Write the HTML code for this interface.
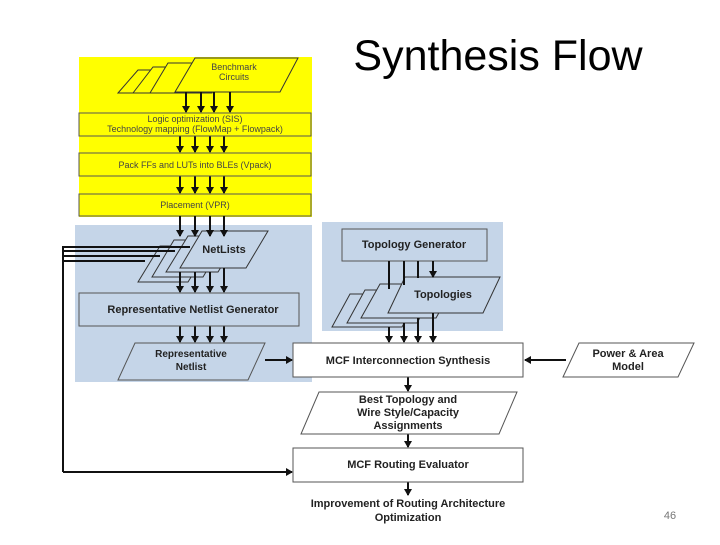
<!DOCTYPE html>
<html><head><style>
body{margin:0;background:#fff;width:720px;height:540px;overflow:hidden;font-family:"Liberation Sans",sans-serif}
</style></head><body>
<svg width="720" height="540" xmlns="http://www.w3.org/2000/svg" font-family="Liberation Sans, sans-serif">
<defs><marker id="a" markerWidth="8" markerHeight="8" refX="6" refY="4" orient="auto" markerUnits="userSpaceOnUse"><path d="M0,0 L7,4 L0,8z" fill="#111"/></marker></defs>
<text x="498" y="70" font-size="43" text-anchor="middle" fill="#000">Synthesis Flow</text>
<rect x="79" y="57" width="233" height="160" fill="#ffff00"/>
<g fill="#ffff00" stroke="#333" stroke-width="1">
<polygon points="118,93 138,70 200,70 180,93"/>
<polygon points="133,93 153,67 215,67 195,93"/>
<polygon points="150,93 168,63 230,63 212,93"/>
<polygon points="175,92 195,58 298,58 280,92"/>
</g>
<text x="234" y="70" font-size="9" text-anchor="middle" fill="#444">Benchmark</text>
<text x="234" y="80" font-size="9" text-anchor="middle" fill="#444">Circuits</text>
<g stroke="#111" stroke-width="2" marker-end="url(#a)">
<line x1="186" y1="92" x2="186" y2="112"/><line x1="201" y1="92" x2="201" y2="112"/><line x1="214" y1="92" x2="214" y2="112"/><line x1="230" y1="92" x2="230" y2="112"/>
<line x1="180" y1="136" x2="180" y2="152"/><line x1="195" y1="136" x2="195" y2="152"/><line x1="210" y1="136" x2="210" y2="152"/><line x1="224" y1="136" x2="224" y2="152"/>
<line x1="180" y1="176" x2="180" y2="193"/><line x1="195" y1="176" x2="195" y2="193"/><line x1="210" y1="176" x2="210" y2="193"/><line x1="224" y1="176" x2="224" y2="193"/>
</g>
<g fill="#ffff00" stroke="#555" stroke-width="1">
<rect x="79" y="113" width="232" height="23"/>
<rect x="79" y="153" width="232" height="23"/>
<rect x="79" y="194" width="232" height="22"/>
</g>
<g font-size="9" fill="#444" text-anchor="middle">
<text x="195" y="122">Logic optimization (SIS)</text>
<text x="195" y="132">Technology mapping (FlowMap + Flowpack)</text>
<text x="195" y="168">Pack FFs and LUTs into BLEs (Vpack)</text>
<text x="195" y="208">Placement (VPR)</text>
</g>
<rect x="75" y="225" width="237" height="157" fill="#c5d5e8"/>
<g fill="#c5d5e8" stroke="#333" stroke-width="1">
<polygon points="138,282 160,246 210,246 188,282"/>
<polygon points="152,277 174,240 225,240 203,277"/>
<polygon points="166,272 188,236 240,236 218,272"/>
<polygon points="180,268 202,231 268,231 246,268"/>
</g>
<text x="224" y="253" font-size="11" font-weight="bold" text-anchor="middle" fill="#222">NetLists</text>
<g stroke="#111" stroke-width="2" marker-end="url(#a)">
<line x1="180" y1="216" x2="180" y2="236"/><line x1="195" y1="216" x2="195" y2="236"/><line x1="210" y1="216" x2="210" y2="236"/><line x1="224" y1="216" x2="224" y2="236"/>
<line x1="180" y1="272" x2="180" y2="292"/><line x1="195" y1="272" x2="195" y2="292"/><line x1="210" y1="272" x2="210" y2="292"/><line x1="224" y1="268" x2="224" y2="292"/>
<line x1="180" y1="326" x2="180" y2="342"/><line x1="195" y1="326" x2="195" y2="342"/><line x1="210" y1="326" x2="210" y2="342"/><line x1="224" y1="326" x2="224" y2="342"/>
<line x1="265" y1="360" x2="292" y2="360"/>
</g>
<rect x="79" y="293" width="220" height="33" fill="#c5d5e8" stroke="#555"/>
<text x="193" y="313" font-size="11" font-weight="bold" text-anchor="middle" fill="#222">Representative Netlist Generator</text>
<polygon points="118,380 135,343 265,343 248,380" fill="#c5d5e8" stroke="#555"/>
<text x="191" y="357" font-size="10" font-weight="bold" text-anchor="middle" fill="#222">Representative</text>
<text x="191" y="370" font-size="10" font-weight="bold" text-anchor="middle" fill="#222">Netlist</text>
<g stroke="#111" stroke-width="2" fill="none">
<polyline points="190,247 63,247 63,472"/>
<line x1="63" y1="251" x2="175" y2="251"/>
<line x1="63" y1="256" x2="160" y2="256"/>
<line x1="63" y1="261" x2="145" y2="261"/>
<line x1="63" y1="472" x2="292" y2="472" marker-end="url(#a)"/>
</g>
<rect x="322" y="222" width="181" height="109" fill="#c5d5e8"/>
<rect x="342" y="229" width="145" height="32" fill="#c5d5e8" stroke="#555"/>
<text x="414" y="248" font-size="11" font-weight="bold" text-anchor="middle" fill="#222">Topology Generator</text>
<g fill="#c5d5e8" stroke="#333" stroke-width="1">
<polygon points="332,327 350,294 420,294 402,327"/>
<polygon points="347,323 365,290 435,290 417,323"/>
<polygon points="361,318 380,284 455,284 436,318"/>
<polygon points="388,313 405,277 500,277 483,313"/>
</g>
<text x="443" y="298" font-size="11" font-weight="bold" text-anchor="middle" fill="#222">Topologies</text>
<g stroke="#111" stroke-width="2">
<line x1="389" y1="261" x2="389" y2="289"/><line x1="404" y1="261" x2="404" y2="285"/><line x1="418" y1="261" x2="418" y2="278"/>
<line x1="433" y1="261" x2="433" y2="277" marker-end="url(#a)"/>
</g>
<g stroke="#111" stroke-width="2" marker-end="url(#a)">
<line x1="389" y1="327" x2="389" y2="342"/><line x1="404" y1="323" x2="404" y2="342"/><line x1="418" y1="318" x2="418" y2="342"/><line x1="433" y1="313" x2="433" y2="342"/>
<line x1="408" y1="377" x2="408" y2="391"/><line x1="408" y1="434" x2="408" y2="447"/><line x1="408" y1="482" x2="408" y2="495"/>
<line x1="566" y1="360" x2="525" y2="360"/>
</g>
<rect x="293" y="343" width="230" height="34" fill="#fff" stroke="#555"/>
<text x="408" y="364" font-size="11" font-weight="bold" text-anchor="middle" fill="#222">MCF Interconnection Synthesis</text>
<polygon points="563,377 579,343 694,343 678,377" fill="#fff" stroke="#555"/>
<text x="628" y="357" font-size="11" font-weight="bold" text-anchor="middle" fill="#222">Power &amp; Area</text>
<text x="628" y="370" font-size="11" font-weight="bold" text-anchor="middle" fill="#222">Model</text>
<polygon points="301,434 319,392 517,392 499,434" fill="#fff" stroke="#555"/>
<g font-size="11" font-weight="bold" text-anchor="middle" fill="#222">
<text x="408" y="403">Best Topology and</text>
<text x="408" y="416">Wire Style/Capacity</text>
<text x="408" y="429">Assignments</text>
</g>
<rect x="293" y="448" width="230" height="34" fill="#fff" stroke="#555"/>
<text x="408" y="468" font-size="11" font-weight="bold" text-anchor="middle" fill="#222">MCF Routing Evaluator</text>
<text x="408" y="507" font-size="11" font-weight="bold" text-anchor="middle" fill="#222">Improvement of Routing Architecture</text>
<text x="408" y="521" font-size="11" font-weight="bold" text-anchor="middle" fill="#222">Optimization</text>
<text x="670" y="519" font-size="11" text-anchor="middle" fill="#777">46</text>
</svg>
</body></html>
